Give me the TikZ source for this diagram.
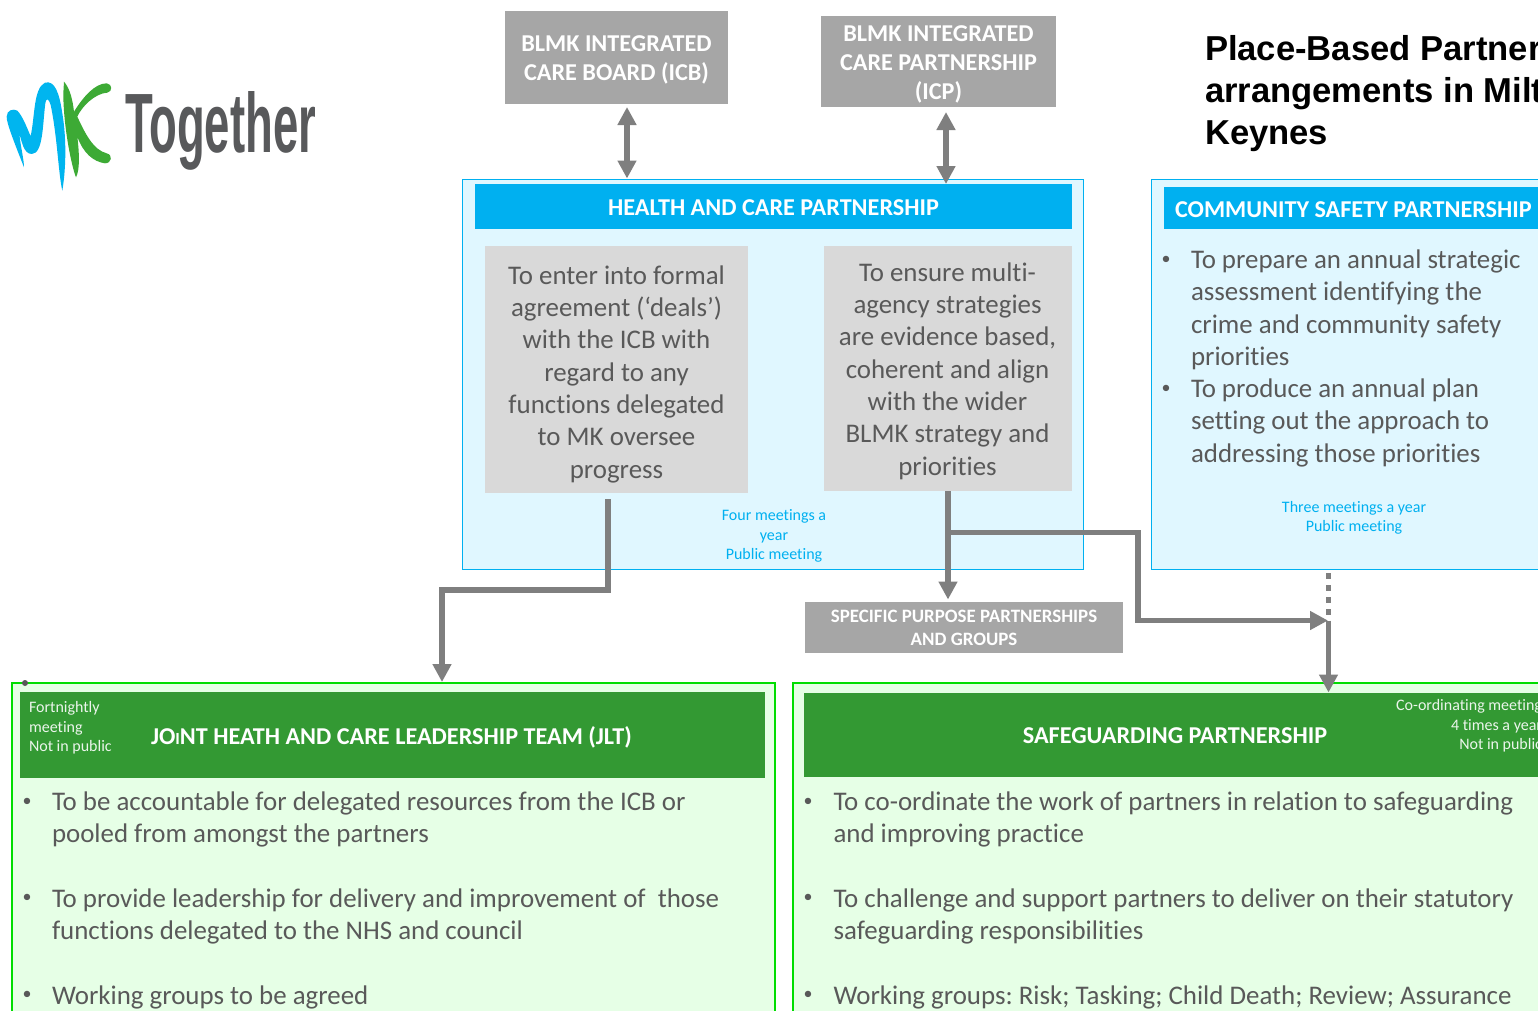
\documentclass[tikz,border=0pt]{standalone}
\usepackage{graphicx}
\usepackage{fontspec}
\setmainfont[Ligatures=NoCommon]{Carlito}
\newfontfamily\titlefont{Liberation Sans}
\usetikzlibrary{arrows.meta}
\AtBeginDocument{\frenchspacing}
\definecolor{greybox}{HTML}{A6A6A6}
\definecolor{greyin}{HTML}{D9D9D9}
\definecolor{arrowgrey}{HTML}{7F7F7F}
\definecolor{bodytxt}{HTML}{595959}
\definecolor{cyanfill}{HTML}{E0F7FF}
\definecolor{cyanline}{HTML}{00B0F0}
\definecolor{greenfill}{HTML}{E6FFE6}
\definecolor{greenline}{HTML}{00DD00}
\definecolor{greenhead}{HTML}{339933}
\definecolor{logogrey}{HTML}{58595B}
\definecolor{logoblue}{HTML}{00B5EF}
\definecolor{logogreen}{HTML}{3DAA35}
\newcommand{\fsz}[2]{\fontsize{#1}{#2}\selectfont}
\tikzset{
  x=1pt,y=-1pt,
  box/.style={inner sep=0pt,outer sep=0pt},
  greytitle/.style={box,fill=greybox,text=white,font=\bfseries\fsz{24.2}{29},align=center},
  panelC/.style={box,fill=cyanfill,draw=cyanline,line width=1.4pt},
  panelG/.style={box,fill=greenfill,draw=greenline,line width=1.6pt},
  headC/.style={box,fill=cyanline,text=white,font=\bfseries\fsz{24.2}{28},align=center},
  inbox/.style={box,fill=greyin},
  intext/.style={box,text=bodytxt,font=\fsz{26.9}{32.3},align=center,anchor=base},
  bodyt/.style={box,text=bodytxt,font=\fsz{26.9}{32.3},align=left,anchor=base west},
  bull/.style={box,text=bodytxt,font=\fsz{18}{20},anchor=base},
  meetC/.style={box,text=cyanline,font=\fsz{16}{19.5},align=center,anchor=base},
  meetG/.style={box,text=white!90!greenhead,font=\fsz{16}{19.5},anchor=base},
  conn/.style={draw=arrowgrey,line width=5.8pt},
  tip/.style={-{Triangle[width=18pt,length=18pt]}},
  tips/.style={{Triangle[width=18pt,length=18pt]}-{Triangle[width=18pt,length=18pt]}},
}
\begin{document}
\begin{tikzpicture}
\useasboundingbox (0,0) rectangle (1538,1010);
\clip (0,0) rectangle (1538,1010);
\fill[white] (0,0) rectangle (1538,1010);

% logo
\begin{scope}[shift={(0,60)},x=0.3333pt,y=-0.3333pt]
\fill[logoblue] (72,322) .. controls (40,240) and (20,190) .. (20,170)
 .. controls (20,150) and (40,145) .. (52,152)
 .. controls (70,170) and (85,215) .. (92,228)
 .. controls (105,170) and (100,85) .. (135,68)
 .. controls (165,60) and (178,100) .. (187,160)
 .. controls (199,230) and (199,320) .. (187,392)
 .. controls (175,340) and (172,230) .. (152,135)
 .. controls (147,118) and (140,110) .. (136,130)
 .. controls (128,190) and (130,282) .. (95,282)
 .. controls (70,282) and (65,240) .. (58,222)
 .. controls (62,260) and (72,300) .. (72,322) -- cycle;
\fill[logogreen] (228,352) .. controls (215,320) and (190,200) .. (190,100)
 -- (192,65) .. controls (210,85) and (218,120) .. (222,155)
 .. controls (250,110) and (285,70) .. (320,70)
 .. controls (338,72) and (338,95) .. (322,98)
 .. controls (285,100) and (245,140) .. (232,170)
 .. controls (255,220) and (280,270) .. (320,280)
 .. controls (340,285) and (335,310) .. (315,310)
 .. controls (280,305) and (250,280) .. (232,230)
 .. controls (238,280) and (240,330) .. (228,352) -- cycle;
\end{scope}
\node[box,anchor=base west,text=logogrey] (logotext) at (125,152)
  {\resizebox{191pt}{61pt}{\titlefont\bfseries Together}};

% title
\node[box,anchor=base west,align=left,font=\titlefont\bfseries\fsz{34.6}{42}] (title) at (1205,144.5)
  {Place-Based Partnership\\arrangements in Milton\\Keynes};

% top boxes
\node[box,fill=greybox,minimum width=223pt,minimum height=93pt] (icb) at (616.5,57.5) {};
\node[greytitle,fill=none] (icbtext) at (616.5,60) {BLMK INTEGRATED\\CARE BOARD (ICB)};
\node[box,fill=greybox,minimum width=235pt,minimum height=91pt] (icp) at (938.5,61.5) {};
\node[greytitle,fill=none] (icptext) at (938.5,64.5) {BLMK INTEGRATED\\CARE PARTNERSHIP\\(ICP)};

% panels
\node[panelC,minimum width=621pt,minimum height=390pt] (hcp) at (773,374.5) {};
\node[box,fill=cyanline,minimum width=597pt,minimum height=45pt] (hcphead) at (773.5,206.5) {};
\node[headC,fill=none] (hcpheadt) at (773.5,207.5) {HEALTH AND CARE PARTNERSHIP};
\node[inbox,minimum width=263pt,minimum height=247pt] (hcpl) at (616.5,369.5) {};
\node[inbox,minimum width=248pt,minimum height=245pt] (hcpr) at (948,368.5) {};
\node[intext] (hcpltext) at (616.5,478) {To enter into formal\\agreement (‘deals’)\\with the ICB with\\regard to any\\functions delegated\\to MK oversee\\progress};
\node[intext] (hcprtext) at (947.5,475) {To ensure multi-\\agency strategies\\are evidence based,\\coherent and align\\with the wider\\BLMK strategy and\\priorities};
\node[meetC] (hcpmeet) at (774,559.5) {Four meetings a\\year\\Public meeting};

\node[panelC,minimum width=420pt,minimum height=390pt] (csp) at (1361.5,374.5) {};
\node[headC,minimum width=400pt,minimum height=42pt] (csphead) at (1364,208) {};
\node[box,anchor=base west,text=white,font=\bfseries\fsz{24.2}{28}] (cspheadt) at (1175,217) {COMMUNITY SAFETY PARTNERSHIP};
\node[bull] (cspb1) at (1166,264) {•};
\node[bodyt] (cspt1) at (1191,365.5) {To prepare an annual strategic\\assessment identifying the\\crime and community safety\\priorities};
\node[bull] (cspb2) at (1166,393) {•};
\node[bodyt] (cspt2) at (1191,462) {To produce an annual plan\\setting out the approach to\\addressing those priorities};
\node[meetC] (cspmeet) at (1354,531.5) {Three meetings a year\\Public meeting};

\node[greytitle,font=\bfseries\fsz{18.9}{23},minimum width=318pt,minimum height=51pt] (spp) at (964,627.5) {SPECIFIC PURPOSE PARTNERSHIPS\\AND GROUPS};

% JLT
\node[panelG,minimum width=763pt,minimum height=360pt] (jlt) at (393.5,863) {};
\node[box,fill=greenhead,minimum width=745pt,minimum height=86pt] (jlthead) at (392.5,735) {};
\node[box,anchor=base west,text=white,font=\bfseries\fsz{24.2}{28}] (jlttitle) at (151,744.5) {JO{\fsz{17}{17}I}NT HEATH AND CARE LEADERSHIP TEAM (JLT)};
\node[meetG,anchor=base west,align=left] (jltmeet) at (29,751.5) {Fortnightly\\meeting\\Not in public};
\node[bull] (jb1) at (27,806) {•};
\node[bodyt] (jt1) at (52,842.5) {To be accountable for delegated resources from the ICB or\\pooled from amongst the partners};
\node[bull] (jb2) at (27,902.5) {•};
\node[bodyt] (jt2) at (52,939.5) {To provide leadership for delivery and improvement of\ \ those\\functions delegated to the NHS and council};
\node[bull] (jb3) at (27,999) {•};
\node[bodyt] (jt3) at (52,1004) {Working groups to be agreed};
\fill[black!65] (25,683) circle (3pt);

% Safeguarding
\node[panelG,minimum width=780pt,minimum height=360pt] (sg) at (1183,863) {};
\node[box,fill=greenhead,minimum width=760pt,minimum height=84pt] (sghead) at (1184,735) {};
\node[box,anchor=base,text=white,font=\bfseries\fsz{24.2}{28}] (sgtitle) at (1175,743.5) {SAFEGUARDING PARTNERSHIP};
\node[meetG,anchor=base east,align=right] (sgmeet) at (1542,749.5) {Co-ordinating meeting\\4 times a year\\Not in public};
\node[bull] (sb1) at (808,806) {•};
\node[bodyt] (st1) at (833.5,842.5) {To co-ordinate the work of partners in relation to safeguarding\\and improving practice};
\node[bull] (sb2) at (808,902.5) {•};
\node[bodyt] (st2) at (833.5,939.5) {To challenge and support partners to deliver on their statutory\\safeguarding responsibilities};
\node[bull] (sb3) at (808,999) {•};
\node[bodyt] (st3) at (833.5,1004) {Working groups: Risk; Tasking; Child Death; Review; Assurance};

% connectors
\coordinate (a1) at (627,107); \coordinate (a2) at (627,178.5);
\coordinate (b1) at (946,112); \coordinate (b2) at (946,184);
\draw[conn,tips] (a1) -- (a2);
\draw[conn,tips] (b1) -- (b2);
\coordinate (l0) at (608,499); \coordinate (l1) at (608,590); \coordinate (l2) at (442,590); \coordinate (l3) at (442,682);
\draw[conn,tip] (l0) -- (l1) -- (l2) -- (l3);
\coordinate (r0) at (948,491); \coordinate (r1) at (948,599.5);
\draw[conn,tip] (r0) -- (r1);
\coordinate (m0) at (948,532.5); \coordinate (m1) at (1138,532.5); \coordinate (m2) at (1138,620.5); \coordinate (m3) at (1328,620.5);
\draw[conn,tip] (m0) -- (m1) -- (m2) -- (m3);
\coordinate (d0) at (1328.5,573); \coordinate (d1) at (1328.5,620.5); \coordinate (d2) at (1328.5,692.5);
\draw[conn,dash pattern=on 6pt off 6pt] (d0) -- (d1);
\draw[conn,tip] (d1) -- (d2);
\end{tikzpicture}
\end{document}
